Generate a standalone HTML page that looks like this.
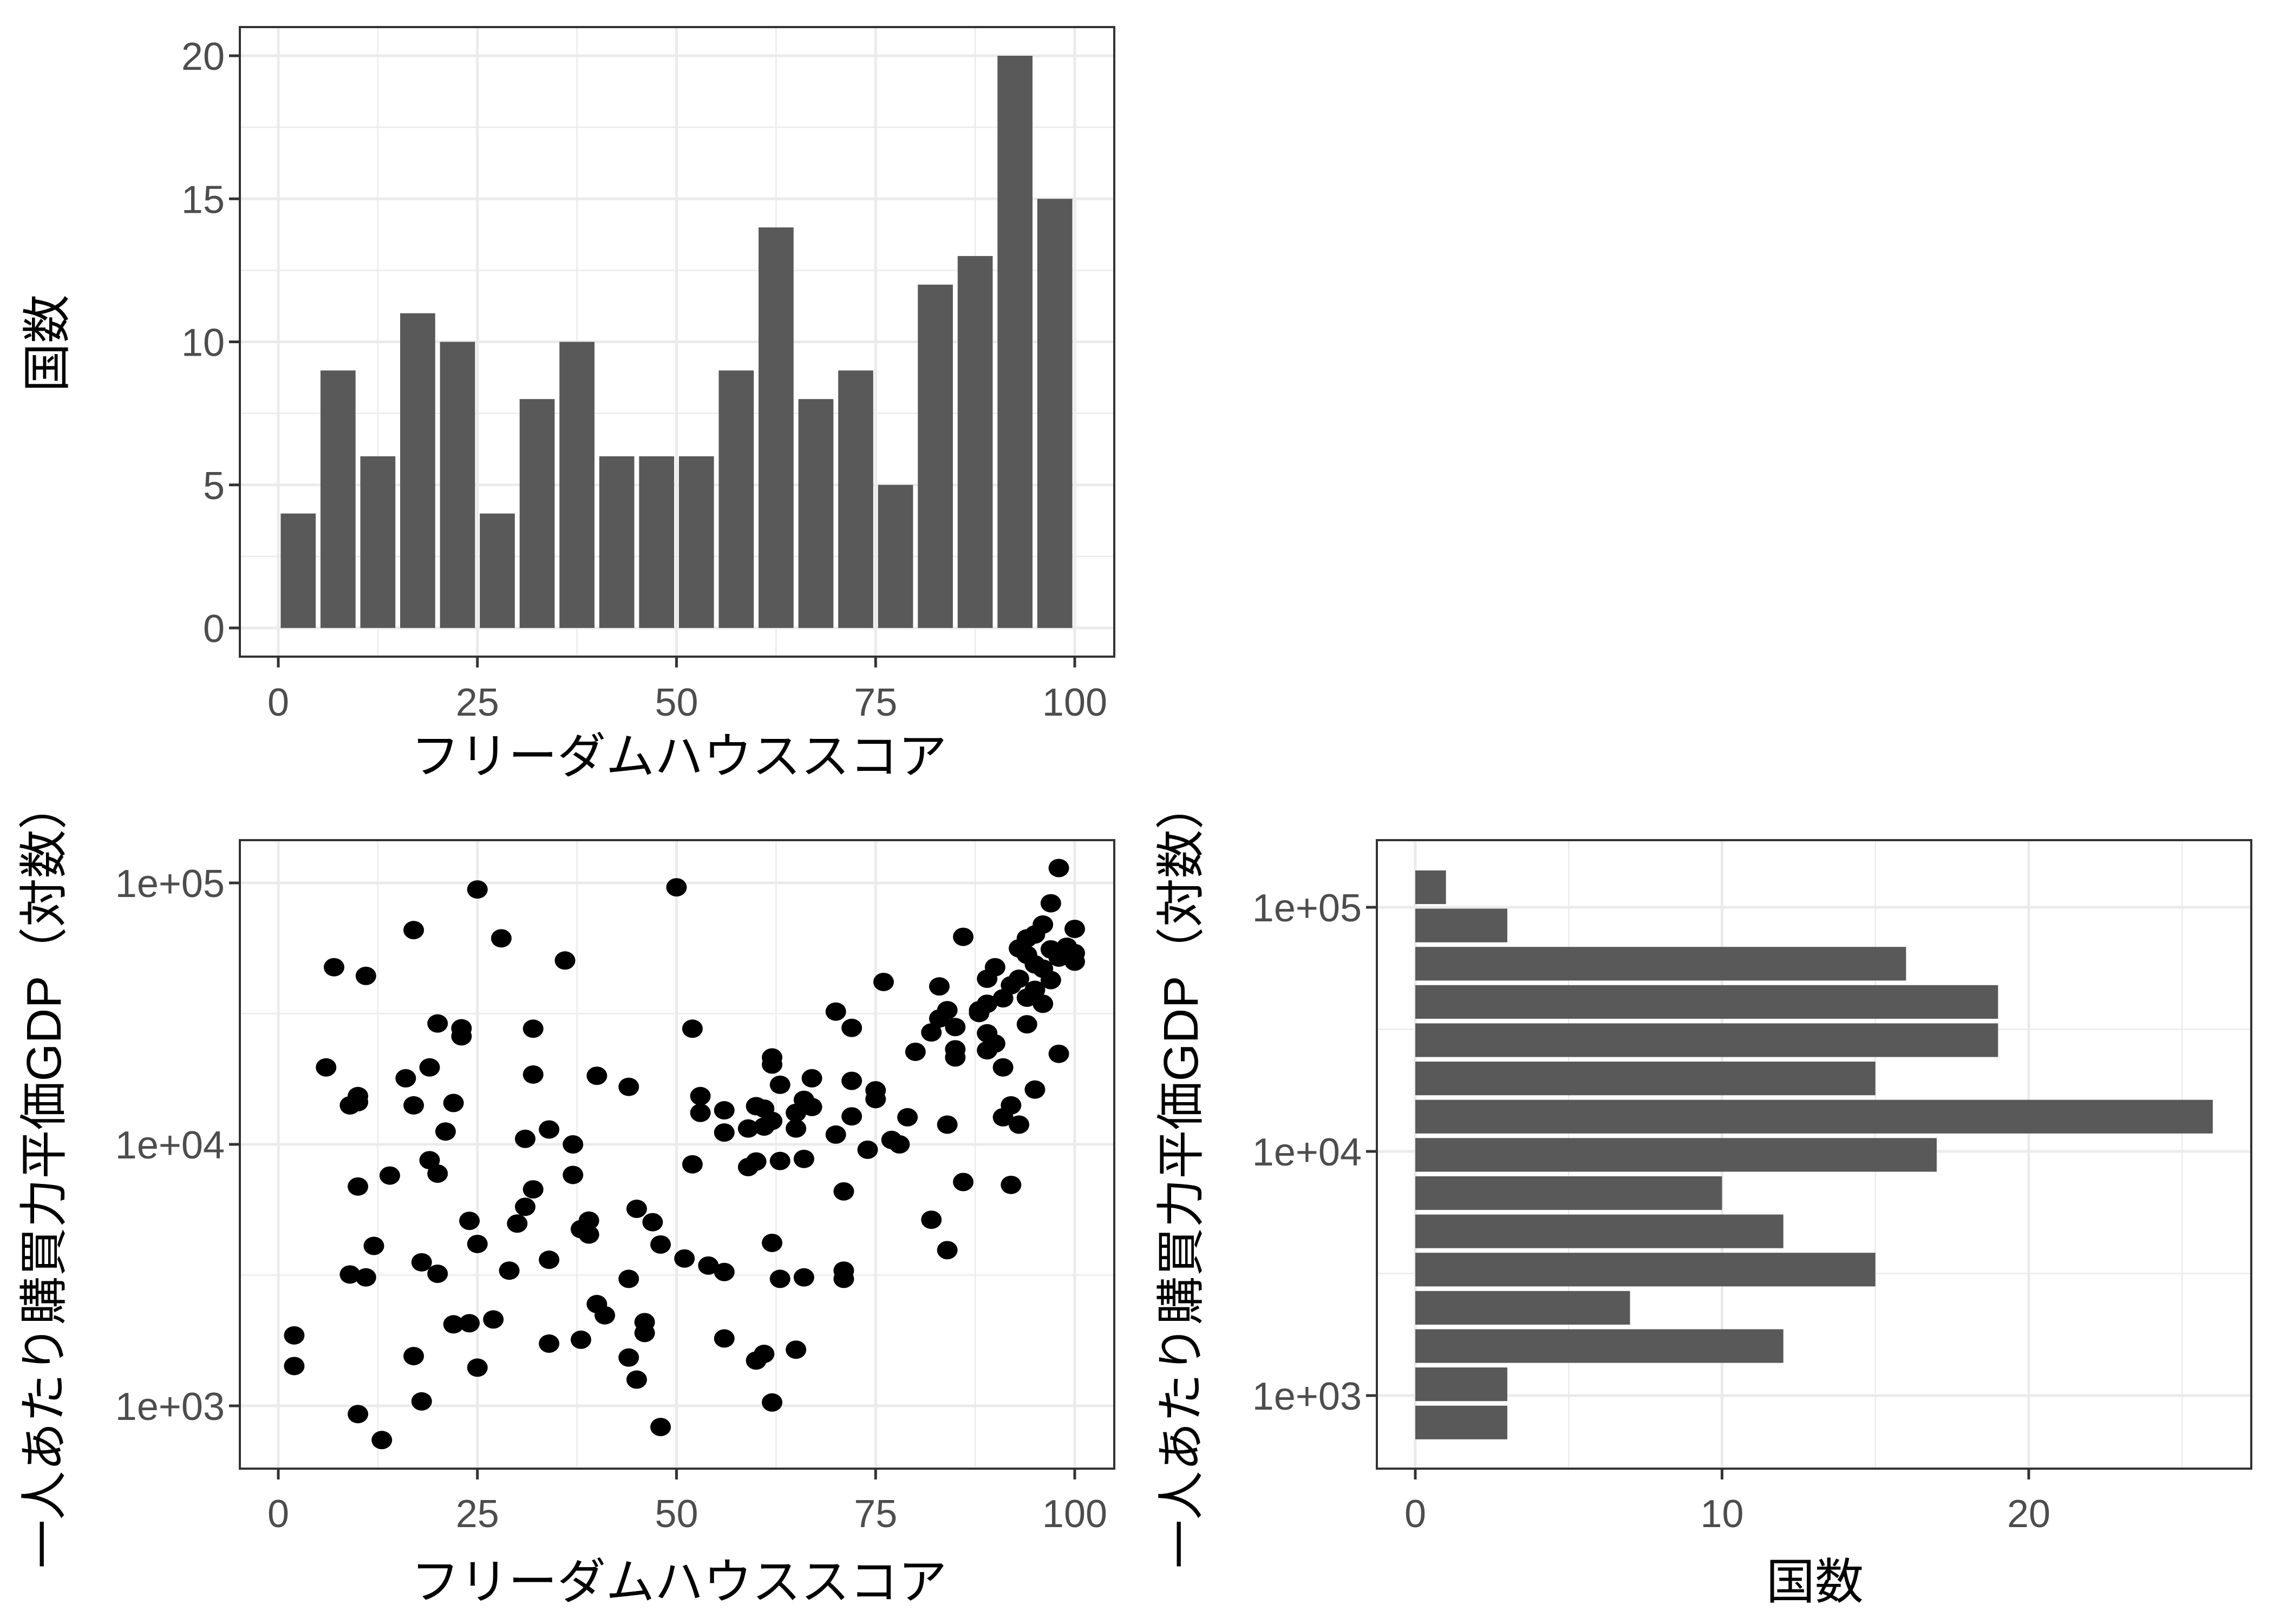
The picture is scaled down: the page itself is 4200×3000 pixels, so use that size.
<!DOCTYPE html>
<html><head><meta charset="utf-8"><style>
html,body{margin:0;padding:0;background:#fff}
svg{display:block}
text{font-family:"Liberation Sans","Noto Sans CJK JP",sans-serif}
</style></head><body>
<svg id="c" width="4200" height="3000" viewBox="0 0 4200 3000" xmlns="http://www.w3.org/2000/svg">
<rect width="4200" height="3000" fill="#fff"/>
</svg>
<script>
// ---- data ----
const histCounts = [4,9,6,11,10,4,8,10,6,6,6,9,14,8,9,5,12,13,20,15];
const histBinWidth = 5;
const histXTicks = [0,25,50,75,100];
const histYTicks = [0,5,10,15,20];
const scatterX = [2,2,6,7,9,10,10,10,9,11,10,11,12,13,14,16,17,17,17,18,18,19,19,20,20,20,21,22,22,23,23,24,24,25,25,25,27,28,29,30,31,31,32,32,32,34,34,34,36,37,37,38,39,39,38,40,40,41,44,45,47,48,44,46,46,44,45,48,50,51,52,52,53,53,54,56,56,56,56,59,59,60,60,61,61,60,61,62,62,62,62,62,63,63,63,65,65,66,67,67,66,66,65,70,70,71,71,71,72,72,72,74,75,75,76,77,78,79,80,82,83,83,84,85,85,85,84,82,84,86,86,88,89,88,89,90,89,90,89,91,91,92,93,92,91,92,93,93,94,95,96,94,95,96,94,95,97,98,98,97,98,99,100,100,100,97,96,94,95];
const scatterY = [1860,1420,19700,47600,14100,15300,14500,6900,3180,3100,930,44100,4090,740,7600,17900,66000,14100,1550,3540,1040,19700,8700,7730,29000,3200,11200,14400,2050,27800,25900,2070,5100,94400,4160,1400,2140,61400,3290,4980,10500,5770,27700,18500,6730,11400,3620,1730,50500,10000,7640,4740,5110,4520,1790,18300,2450,2220,16600,5670,5040,4140,3060,2090,1900,1530,1260,830,96200,3660,27700,8390,15300,13200,3440,13500,11100,3250,1810,11500,8190,8600,14000,13700,11700,1490,1580,21500,20200,12300,4200,1030,16900,8640,3060,13200,11500,14800,13900,17900,8800,3100,1640,32200,10900,6610,3290,3060,27900,17500,12800,9540,16100,14900,41800,10400,10000,12700,22600,26800,30300,40200,32600,28100,23100,21500,11900,5150,3940,62200,7180,32600,34500,31800,43000,47600,26600,24300,22900,19700,12700,14100,11900,7000,36200,40600,43000,56200,61400,63500,69300,36400,39000,34500,28800,16200,83600,114000,22200,55700,51800,57000,66700,53900,50000,42500,47000,53100,48800];
const scatterYTicks = [1000,10000,100000];
const scatterYTickLabels = ["1e+03","1e+04","1e+05"];
const gdpHistCounts = [1,3,16,19,19,15,26,17,10,12,15,7,12,3,3]; // top to bottom
const gdpHistTopCenterLog = 5.082;
const gdpHistBinLog = 0.1566;
const gdpXTicks = [0,10,20];

// ---- helpers ----
const NS="http://www.w3.org/2000/svg";
const svg=document.getElementById('c');
function el(tag,attrs,parent){const e=document.createElementNS(NS,tag);for(const k in attrs)e.setAttribute(k,attrs[k]);(parent||svg).appendChild(e);return e;}
function txt(s,attrs,parent){const t=el('text',attrs,parent);t.textContent=s;return t;}
const GRID="#ebebeb", DARK="#333333", TICKC="#4d4d4d", BAR="#595959";

function panel(name,x0,y0,x1,y1){
  const g=el('g',{});  
  el('rect',{x:x0,y:y0,width:x1-x0,height:y1-y0,fill:'#fff'},g);
  return g;
}
function vgrid(g,x,y0,y1,w){el('line',{x1:x,x2:x,y1:y0,y2:y1,stroke:GRID,'stroke-width':w},g);}
function hgrid(g,y,x0,x1,w){el('line',{x1:x0,x2:x1,y1:y,y2:y,stroke:GRID,'stroke-width':w},g);}
function border(g,x0,y0,x1,y1){const r=el('rect',{x:x0,y:y0,width:x1-x0,height:y1-y0,fill:'none',stroke:DARK,'stroke-width':4},g);}
function xtick(g,x,yb,label,baseline){
  el('line',{x1:x,x2:x,y1:yb,y2:yb+20,stroke:DARK,'stroke-width':5},g);
  const t=txt(label,{x:x,y:baseline,'font-size':72,fill:TICKC,'text-anchor':'middle'},g);
  
}
function ytick(g,y,xl,label){
  el('line',{x1:xl-20,x2:xl,y1:y,y2:y,stroke:DARK,'stroke-width':5},g);
  const t=txt(label,{x:xl-28,y:y+26,'font-size':72,fill:TICKC,'text-anchor':'end'},g);
  
}
function title(s,x,y,rot,name){
  const t=txt(s,{x:x,y:y,'font-size':90,fill:'#000','text-anchor':'middle',transform:rot?`rotate(-90 ${x} ${y})`:''});
  
  return t;
}

// ---- top histogram ----
(function(){
  const x0=443,x1=2058,y0=50,y1=1213;
  const sx=v=>514+v*14.71, sy=v=>1160-v*52.85;
  const g=panel('freedom-histogram-panel',x0,y0,x1,y1);
  [12.5,37.5,62.5,87.5].forEach(v=>vgrid(g,sx(v),y0,y1,2.5));
  [2.5,7.5,12.5,17.5].forEach(v=>hgrid(g,sy(v),x0,x1,2.5));
  histXTicks.forEach(v=>vgrid(g,sx(v),y0,y1,5));
  histYTicks.forEach(v=>hgrid(g,sy(v),x0,x1,5));
  histCounts.forEach((c,i)=>{
    const a=i*histBinWidth, b=a+histBinWidth, w=(b-a)*0.88, m=(a+b)/2;
    const r=el('rect',{x:sx(m-w/2),y:sy(c),width:sx(m+w/2)-sx(m-w/2),height:sy(0)-sy(c),fill:BAR},g);
    
    
  });
  border(g,x0,y0,x1,y1);
  histXTicks.forEach(v=>xtick(g,sx(v),y1,String(v),1322));
  histYTicks.forEach(v=>ytick(g,sy(v),x0,String(v)));
  title('フリーダムハウススコア',1254,1428,false,'top-x-axis-title');
  title('国数',118,634,true,'top-y-axis-title');
})();

// ---- scatter ----
(function(){
  const x0=443,x1=2058,y0=1552,y1=2713;
  const sx=v=>514+v*14.71, sy=v=>1631+(5-Math.log10(v))*483;
  const g=panel('scatter-panel',x0,y0,x1,y1);
  [12.5,37.5,62.5,87.5].forEach(v=>vgrid(g,sx(v),y0,y1,2.5));
  [Math.pow(10,4.5),Math.pow(10,3.5)].forEach(v=>hgrid(g,sy(v),x0,x1,2.5));
  histXTicks.forEach(v=>vgrid(g,sx(v),y0,y1,5));
  scatterYTicks.forEach(v=>hgrid(g,sy(v),x0,x1,5));
  scatterX.forEach((xv,i)=>{
    const c=el('ellipse',{cx:sx(xv),cy:sy(scatterY[i]),rx:19,ry:17,fill:'#000'},g);
    
    
  });
  border(g,x0,y0,x1,y1);
  histXTicks.forEach(v=>xtick(g,sx(v),y1,String(v),2821));
  scatterYTicks.forEach((v,i)=>ytick(g,sy(v),x0,scatterYTickLabels[i]));
  title('フリーダムハウススコア',1254,1530,false,'scatter-x-axis-title').setAttribute('y',2953);
  title('一人あたり購買力平価GDP（対数）',112,2170,true,'scatter-y-axis-title');
})();

// ---- right horizontal histogram ----
(function(){
  const x0=2543,x1=4158,y0=1552,y1=2713;
  const sx=v=>2614+v*56.65, sy=L=>1676+(5-L)*451;
  const g=panel('gdp-histogram-panel',x0,y0,x1,y1);
  [5,15,25].forEach(v=>vgrid(g,sx(v),y0,y1,2.5));
  [4.5,3.5].forEach(v=>hgrid(g,sy(v),x0,x1,2.5));
  gdpXTicks.forEach(v=>vgrid(g,sx(v),y0,y1,5));
  [5,4,3].forEach(v=>hgrid(g,sy(v),x0,x1,5));
  gdpHistCounts.forEach((c,i)=>{
    const m=gdpHistTopCenterLog-i*gdpHistBinLog, h=gdpHistBinLog*0.88;
    const r=el('rect',{x:sx(0),y:sy(m+h/2),width:sx(c)-sx(0),height:sy(m-h/2)-sy(m+h/2),fill:BAR},g);
    
    
  });
  border(g,x0,y0,x1,y1);
  gdpXTicks.forEach(v=>xtick(g,sx(v),y1,String(v),2821));
  [5,4,3].forEach((v,i)=>ytick(g,sy(v),x0,scatterYTickLabels[2-i]));
  title('国数',3352,1937,false,'gdp-x-axis-title').setAttribute('y',2953);
  title('一人あたり購買力平価GDP（対数）',2212,2170,true,'gdp-y-axis-title');
})();
</script>
</body></html>
